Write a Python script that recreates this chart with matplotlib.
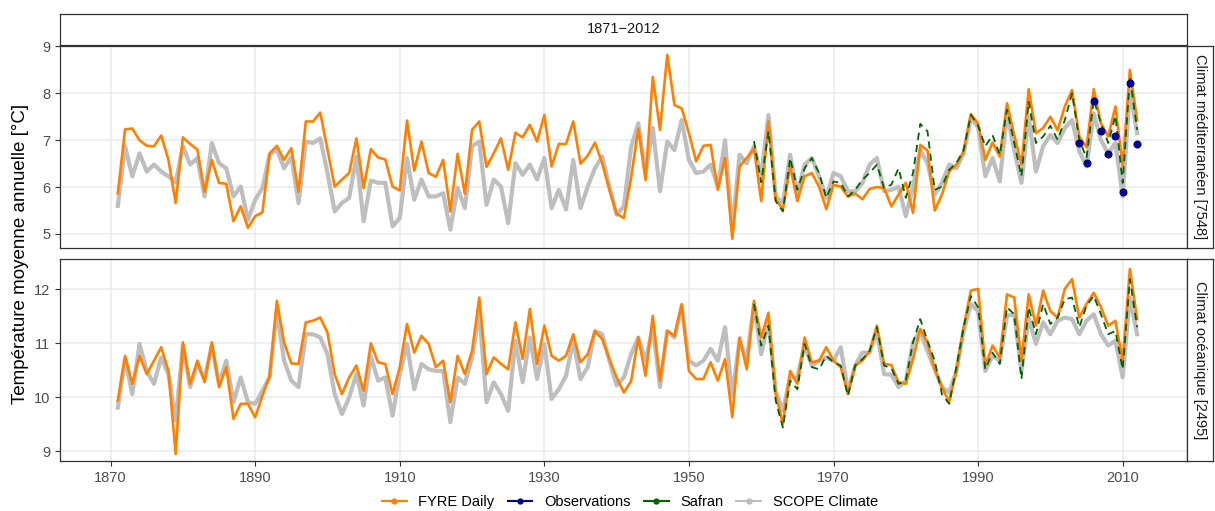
import matplotlib
matplotlib.use("Agg")
import matplotlib.pyplot as plt
from matplotlib.lines import Line2D

plt.rcParams['font.family'] = ['Liberation Sans', 'DejaVu Sans']

# ---------------- data ----------------
years = list(range(1871, 2013))
safran_years = list(range(1959, 2013))
obs_years = list(range(2004, 2013))

fyre_med = [
    5.87, 7.23, 7.25, 7.00, 6.88, 6.87, 7.10, 6.58, 5.66, 7.06,
    6.92, 6.80, 5.90, 6.58, 6.09, 6.07, 5.27, 5.59, 5.13, 5.38,
    5.46, 6.72, 6.88, 6.58, 6.83, 5.90, 7.40, 7.40, 7.59, 6.80,
    6.01, 6.16, 6.30, 7.04, 5.98, 6.81, 6.63, 6.59, 6.01, 5.93,
    7.42, 6.35, 6.97, 6.30, 6.22, 6.58, 5.48, 6.71, 5.86, 7.22,
    7.40, 6.43, 6.72, 7.04, 6.37, 7.16, 7.06, 7.33, 6.97, 7.54,
    6.44, 6.92, 6.92, 7.40, 6.50, 6.67, 6.95, 6.51, 5.94, 5.43,
    5.34, 6.20, 7.25, 6.15, 8.35, 7.22, 8.82, 7.75, 7.68, 7.15,
    6.55, 6.88, 6.90, 5.94, 6.62, 4.90, 6.44, 6.62, 6.83, 5.70,
    7.40, 5.74, 5.52, 6.44, 5.70, 6.23, 6.30, 6.01, 5.53, 6.05,
    6.01, 5.80, 5.86, 5.74, 5.96, 6.00, 5.98, 5.59, 5.84, 6.09,
    5.45, 6.90, 6.78, 5.50, 5.84, 6.33, 6.48, 6.76, 7.56, 7.36,
    6.58, 6.95, 6.65, 7.79, 7.11, 6.48, 8.09, 7.15, 7.26, 7.50,
    7.21, 7.72, 8.07, 7.08, 6.85, 8.09, 7.36, 7.08, 7.72, 6.44,
    8.50, 7.43]

scope_med = [
    5.60, 6.87, 6.23, 6.72, 6.33, 6.48, 6.33, 6.23, 6.10, 6.87,
    6.48, 6.62, 5.80, 6.94, 6.51, 6.40, 5.80, 6.01, 5.30, 5.73,
    5.98, 6.69, 6.80, 6.40, 6.65, 5.66, 6.97, 6.94, 7.04, 6.30,
    5.48, 5.66, 5.77, 6.65, 5.27, 6.14, 6.09, 6.09, 5.16, 5.34,
    6.62, 5.73, 6.16, 5.80, 5.80, 5.87, 5.09, 5.98, 5.55, 6.87,
    6.97, 5.62, 6.16, 6.01, 5.23, 6.51, 6.26, 6.48, 6.16, 6.62,
    5.55, 5.94, 5.52, 6.58, 5.55, 6.01, 6.40, 6.65, 6.01, 5.41,
    5.59, 6.85, 7.36, 6.30, 7.26, 5.91, 6.97, 6.79, 7.43, 6.58,
    6.30, 6.33, 6.48, 6.01, 7.00, 5.09, 6.69, 6.51, 6.87, 6.23,
    7.54, 5.80, 5.66, 6.69, 5.87, 6.48, 6.62, 6.23, 5.77, 6.30,
    6.23, 5.91, 5.91, 6.09, 6.48, 6.62, 5.91, 5.94, 6.01, 5.38,
    6.01, 6.79, 6.51, 5.84, 6.09, 6.48, 6.40, 6.72, 7.47, 7.28,
    6.23, 6.62, 6.12, 7.57, 6.79, 6.09, 7.50, 6.33, 6.87, 7.11,
    6.94, 7.26, 7.43, 6.76, 6.44, 7.57, 7.00, 6.72, 6.94, 5.80,
    8.07, 7.15]

safran_med = [
    6.98, 6.10, 7.19, 5.70, 5.48, 6.62, 5.94, 6.40, 6.62, 6.30,
    5.77, 6.12, 6.09, 5.80, 5.94, 6.16, 6.30, 6.48, 5.98, 6.05,
    6.40, 5.77, 6.30, 7.35, 7.19, 5.94, 6.01, 6.37, 6.51, 6.79,
    7.54, 7.31, 6.87, 7.11, 6.69, 7.65, 6.94, 6.23, 7.82, 6.94,
    7.08, 7.31, 7.01, 7.43, 8.00, 7.01, 6.62, 7.86, 7.36, 6.94,
    7.52, 6.09, 8.35, 7.22]

obs_med = [6.95, 6.52, 7.84, 7.20, 6.70, 7.10, 5.89, 8.23, 6.92]

fyre_oce = [
    9.94, 10.77, 10.25, 10.77, 10.43, 10.68, 10.93, 10.49, 8.95, 11.02,
    10.25, 10.68, 10.28, 11.02, 10.19, 10.56, 9.60, 9.88, 9.88, 9.63,
    10.03, 10.40, 11.79, 11.02, 10.63, 10.62, 11.39, 11.42, 11.48, 11.20,
    10.43, 10.06, 10.37, 10.59, 10.12, 11.00, 10.65, 10.62, 10.06, 10.56,
    11.36, 10.83, 11.14, 10.99, 10.56, 10.68, 9.91, 10.77, 10.43, 10.86,
    11.85, 10.43, 10.74, 10.62, 10.52, 11.39, 10.71, 11.64, 10.62, 11.33,
    10.77, 10.68, 10.77, 11.17, 10.65, 10.80, 11.23, 11.08, 10.71, 10.37,
    10.09, 10.30, 11.11, 10.40, 11.51, 10.31, 11.23, 11.14, 11.73, 10.49,
    10.34, 10.34, 10.65, 10.31, 10.71, 9.63, 11.11, 10.52, 11.79, 11.11,
    11.57, 10.06, 9.51, 10.49, 10.25, 11.11, 10.65, 10.68, 10.93, 10.68,
    10.56, 10.06, 10.59, 10.68, 10.86, 11.33, 10.62, 10.60, 10.28, 10.25,
    10.71, 11.27, 11.02, 10.52, 10.19, 9.91, 10.49, 11.30, 11.98, 12.01,
    10.59, 10.96, 10.74, 11.91, 11.85, 10.68, 11.91, 11.33, 11.98, 11.60,
    11.48, 12.01, 12.19, 11.48, 11.73, 11.94, 11.67, 11.33, 11.42, 10.68,
    12.38, 11.45]

scope_oce = [
    9.81, 10.71, 10.06, 10.99, 10.49, 10.25, 10.74, 10.43, 9.57, 10.96,
    10.19, 10.62, 10.34, 10.96, 10.25, 10.68, 9.91, 10.37, 9.91, 9.88,
    10.12, 10.37, 11.60, 10.68, 10.31, 10.19, 11.17, 11.17, 11.11, 10.80,
    10.06, 9.69, 10.00, 10.43, 9.85, 10.76, 10.31, 10.37, 9.66, 10.43,
    10.99, 10.15, 10.62, 10.52, 10.49, 10.49, 9.54, 10.37, 10.25, 10.74,
    11.57, 9.91, 10.28, 10.06, 9.75, 11.05, 10.28, 11.11, 10.34, 10.99,
    9.97, 10.15, 10.40, 11.05, 10.34, 10.56, 11.23, 11.17, 10.68, 10.22,
    10.37, 10.80, 11.11, 10.68, 11.30, 10.19, 11.23, 11.11, 11.67, 10.68,
    10.59, 10.68, 10.90, 10.68, 11.30, 10.03, 11.05, 10.68, 11.73, 10.80,
    11.42, 10.12, 9.75, 10.37, 10.37, 10.96, 10.59, 10.68, 10.74, 10.68,
    10.93, 10.12, 10.59, 10.83, 10.83, 11.23, 10.43, 10.42, 10.19, 10.31,
    11.02, 11.23, 10.86, 10.52, 10.19, 10.09, 10.49, 11.23, 11.73, 11.60,
    10.49, 10.77, 10.68, 11.51, 11.54, 10.49, 11.48, 10.99, 11.39, 11.17,
    11.42, 11.48, 11.45, 11.17, 11.42, 11.54, 11.17, 10.96, 11.05, 10.37,
    11.85, 11.17]

safran_oce = [
    11.73, 10.96, 11.33, 9.94, 9.44, 10.31, 10.15, 10.99, 10.56, 10.52,
    10.77, 10.65, 10.59, 10.03, 10.59, 10.71, 10.86, 11.30, 10.59, 10.54,
    10.25, 10.31, 11.02, 11.45, 11.05, 10.68, 10.06, 9.88, 10.56, 11.30,
    11.88, 11.67, 10.52, 10.83, 10.62, 11.67, 11.54, 10.34, 11.67, 11.17,
    11.73, 11.36, 11.48, 11.82, 11.85, 11.30, 11.70, 11.88, 11.54, 11.17,
    11.23, 10.52, 12.19, 11.30]

panels = [
    dict(fyre=fyre_med, scope=scope_med, safran=safran_med, obs=obs_med,
         label="Climat méditerranéen [7548]", ticks=[5, 6, 7, 8, 9], ylim=(4.70, 9.01)),
    dict(fyre=fyre_oce, scope=scope_oce, safran=safran_oce, obs=None,
         label="Climat océanique [2495]", ticks=[9, 10, 11, 12], ylim=(8.82, 12.565)),
]
xticks = [1870, 1890, 1910, 1930, 1950, 1970, 1990, 2010]
strip_title = "1871\u22122012"

C_FYRE = "#FF7F00"
C_OBS = "#00008B"
C_SAF = "#006400"
C_SCOPE = "#BEBEBE"
C_DARK = "#333333"
C_TXT = "#4D4D4D"

# ---------------- layout ----------------
W, H = 1215, 511
fig = plt.figure(figsize=(W / 100, H / 100), dpi=100)


def rect(l, t, r, b):
    return [l / W, 1 - b / H, (r - l) / W, (b - t) / H]


panel_px = [(60, 46, 1187, 248), (60, 259, 1187, 461)]

for i, (p, box) in enumerate(zip(panels, panel_px)):
    ax = fig.add_axes(rect(*box))
    ax.set_xlim(1863.0, 2018.9)
    ax.set_ylim(*p["ylim"])
    ax.set_xticks(xticks)
    ax.set_yticks(p["ticks"])
    ax.grid(True, color="#EBEBEB", lw=1.1)
    ax.set_axisbelow(True)
    for s in ax.spines.values():
        s.set_color(C_DARK)
        s.set_linewidth(0.9)
    ax.tick_params(colors=C_DARK, length=3.5, width=0.8, labelsize=10.5,
                   labelcolor=C_TXT)
    if i == 0:
        ax.tick_params(axis="x", bottom=False, labelbottom=False)

    ax.plot(years, p["scope"], color=C_SCOPE, lw=3.0, solid_joinstyle="round",
            zorder=2)
    ax.plot(years, p["fyre"], color=C_FYRE, lw=1.9, solid_joinstyle="round",
            zorder=3)
    ax.plot(safran_years, p["safran"], color=C_SAF, lw=1.3, dashes=(4, 2.8),
            zorder=4)
    if p["obs"] is not None:
        ax.plot(obs_years, p["obs"], "o", color=C_OBS, ms=4.8, zorder=5,
                linestyle="none")

    # right strip
    t, b = box[1], box[3]
    sax = fig.add_axes(rect(1187, t, 1213, b))
    sax.set_xticks([])
    sax.set_yticks([])
    sax.set_facecolor("white")
    for s in sax.spines.values():
        s.set_color(C_DARK)
        s.set_linewidth(0.9)
    sax.text(0.5, 0.5, p["label"], rotation=-90, ha="center", va="center",
             fontsize=10.5, color="#1A1A1A", transform=sax.transAxes)

# top strip
tax = fig.add_axes(rect(60, 14, 1187, 45))
tax.set_xticks([])
tax.set_yticks([])
for s in tax.spines.values():
    s.set_color(C_DARK)
    s.set_linewidth(0.9)
tax.text(0.5, 0.5, strip_title, ha="center", va="center", fontsize=10.5,
         color="#1A1A1A", transform=tax.transAxes)

fig.text(21 / W, 1 - 254 / H, "Température moyenne annuelle [°C]",
         rotation=90, ha="center", va="center", fontsize=13.5, color="black")

handles = [
    Line2D([], [], color=C_FYRE, lw=1.5, marker="o", ms=3.5),
    Line2D([], [], color=C_OBS, lw=1.5, marker="o", ms=3.5),
    Line2D([], [], color=C_SAF, lw=1.5, marker="o", ms=3.5),
    Line2D([], [], color=C_SCOPE, lw=1.5, marker="o", ms=3.5),
]
labels = ["FYRE Daily", "Observations", "Safran", "SCOPE Climate"]
fig.legend(handles, labels, loc="center", bbox_to_anchor=(630 / W, 1 - 502 / H),
           ncol=4, frameon=False, fontsize=10.5, handlelength=1.7,
           handletextpad=0.8, columnspacing=0.9, borderaxespad=0)

fig.savefig("out.png", dpi=100)
